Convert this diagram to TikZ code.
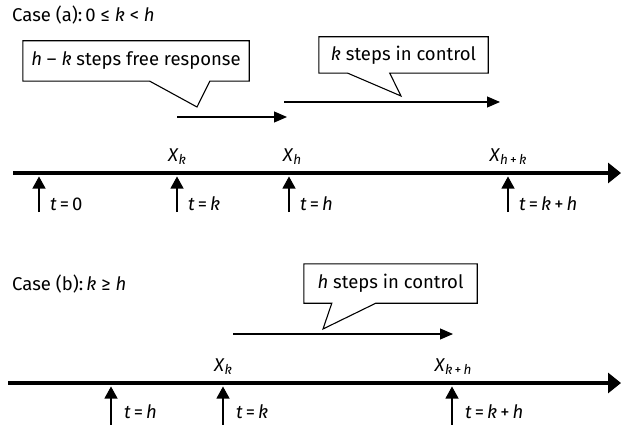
\documentclass[tikz,border=0pt]{standalone}
\usepackage{fontspec}
\setmainfont{Fira Sans}
\usetikzlibrary{arrows.meta,calc}

\newcommand{\vi}[1]{\textit{#1}}
\newcommand{\eqs}{\,=\,}
\newcommand{\subidx}[1]{\raisebox{-0.28ex}{\fontsize{13.5}{14}\selectfont #1}}

\tikzset{
  txt/.style={font=\fontsize{18.5}{20}\selectfont, inner sep=0pt},
  timeaxis/.style={line width=3.8pt, -{Triangle[length=13pt,width=20pt]}},
  tickarrow/.style={line width=1.1pt, -{Triangle[length=12pt,width=13pt]}},
  spanarrow/.style={line width=1.1pt, -{Triangle[length=13pt,width=11pt]}},
  boxtext/.style={txt, minimum height=0pt},
  callout/.style={draw, line width=1.1pt, line join=miter},
}

\begin{document}
\begin{tikzpicture}[x=1pt, y=-1pt]
\useasboundingbox (0,0) rectangle (621,425);

% ---------- Case (a) ----------
\node[txt, anchor=base west] (titleA) at (12,21.7) {Case (a):\,0 ≤ \vi{k} < \vi{h}};

% free-response callout
\node[boxtext, minimum width=226pt, minimum height=40pt] (freebox) at (136,61) {\vi{h} – \vi{k} steps free response};
\coordinate (freetip) at (197,107);
\draw[callout] (freebox.north west) -- (freebox.north east) -- (freebox.south east)
  -- ($(freebox.south west)+(187,0)$) -- (freetip) -- ($(freebox.south west)+(127,0)$)
  -- (freebox.south west) -- cycle;

% control callout
\node[boxtext, minimum width=169pt, minimum height=36pt] (ctrlA) at (403.5,55) {\vi{k} steps in control};
\coordinate (ctrlAtip) at (401,96);
\draw[callout] (ctrlA.north west) -- (ctrlA.north east) -- (ctrlA.south east)
  -- ($(ctrlA.south west)+(71,0)$) -- (ctrlAtip) -- ($(ctrlA.south west)+(29,0)$)
  -- (ctrlA.south west) -- cycle;

% spans
\coordinate (freeS) at (177,117);
\coordinate (freeE) at (287,117);
\draw[spanarrow] (freeS) -- (freeE);
\coordinate (ctrlAS) at (284,102);
\coordinate (ctrlAE) at (500,102);
\draw[spanarrow] (ctrlAS) -- (ctrlAE);

% time axis
\coordinate (axAstart) at (13,173);
\coordinate (axAend) at (621,173);
\draw[timeaxis] (axAstart) -- (axAend);

% time marks
\foreach \name/\x/\lab in {a0/39/{\vi{t}\eqs 0}, ak/177/{\vi{t}\eqs\vi{k}}, ah/289/{\vi{t}\eqs\vi{h}}, akh/508/{\vi{t}\eqs\vi{k}\,+\,\vi{h}}}{
  \coordinate (\name top) at (\x,176.5);
  \coordinate (\name bot) at (\x,212);
  \draw[tickarrow] (\name bot) -- (\name top);
  \node[txt, anchor=base west] (\name lab) at (\x+11,210) {\lab};
}
\node[txt, anchor=base] (XkA) at (177,161.5) {\vi{X}\subidx{\vi{k}}};
\node[txt, anchor=base] (XhA) at (292,161.5) {\vi{X}\subidx{\vi{h}}};
\node[txt, anchor=base] (XhkA) at (508,161.5) {\vi{X}\subidx{\vi{h}\,+\,\vi{k}}};

% ---------- Case (b) ----------
\node[txt, anchor=base west] (titleB) at (12,290) {Case (b):\,\vi{k} ≥ \vi{h}};

\node[boxtext, minimum width=173pt, minimum height=39pt] (ctrlB) at (390.5,283.5) {\vi{h} steps in control};
\coordinate (ctrlBtip) at (323,329);
\draw[callout] (ctrlB.north west) -- (ctrlB.north east) -- (ctrlB.south east)
  -- ($(ctrlB.south west)+(72,0)$) -- (ctrlBtip) -- ($(ctrlB.south west)+(28,0)$)
  -- (ctrlB.south west) -- cycle;

\coordinate (ctrlBS) at (233,334);
\coordinate (ctrlBE) at (453,334);
\draw[spanarrow] (ctrlBS) -- (ctrlBE);

\coordinate (axBstart) at (8,383);
\coordinate (axBend) at (621,383);
\draw[timeaxis] (axBstart) -- (axBend);

\foreach \name/\x/\lab in {bh/111/{\vi{t}\eqs\vi{h}}, bk/223/{\vi{t}\eqs\vi{k}}, bkh/452/{\vi{t}\eqs\vi{k}\,+\,\vi{h}}}{
  \coordinate (\name top) at (\x,386.5);
  \coordinate (\name bot) at (\x,426);
  \draw[tickarrow] (\name bot) -- (\name top);
  \node[txt, anchor=base west] (\name lab) at (\x+13,418) {\lab};
}
\node[txt, anchor=base] (XkB) at (223,371.5) {\vi{X}\subidx{\vi{k}}};
\node[txt, anchor=base] (XkhB) at (453,371.5) {\vi{X}\subidx{\vi{k}\,+\,\vi{h}}};
\end{tikzpicture}
\end{document}
